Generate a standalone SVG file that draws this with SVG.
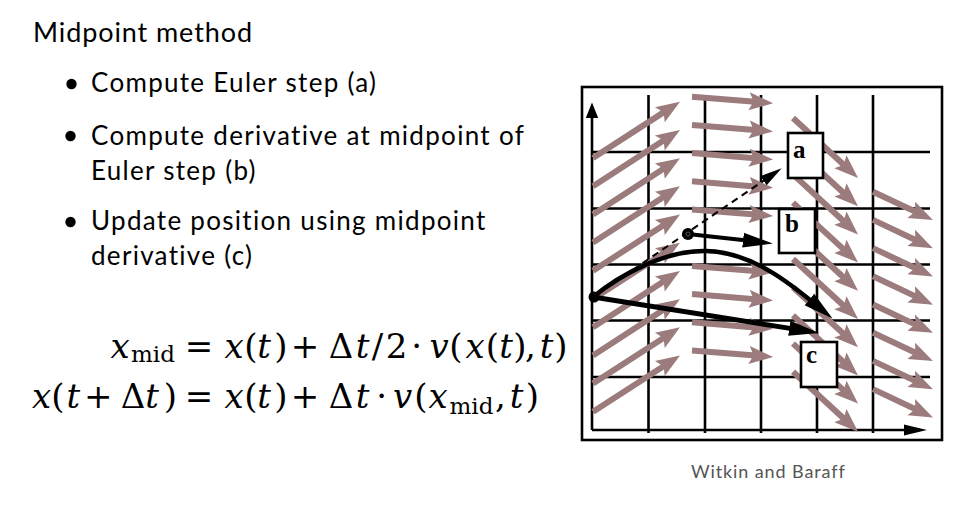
<svg xmlns="http://www.w3.org/2000/svg" width="975" height="508" viewBox="0 0 975 508">
<style>
.t{font-family:Lato,"Open Sans",sans-serif;font-size:26px;letter-spacing:1.3px;fill:#000}
.cr{font-family:Lato,"Open Sans",sans-serif;font-size:18px;letter-spacing:0.9px;fill:#555}
.eq{font-family:"DejaVu Serif",serif;font-size:34px;fill:#000;text-anchor:middle}
.it{font-style:italic}
.sub{font-size:23px;font-style:normal}
.grid{stroke:#000;stroke-width:2.6;fill:none}
.vec{fill:#9b7b7b}
.lbl{font-family:"Liberation Serif","DejaVu Serif",serif;font-weight:bold;font-size:25px;fill:#000}
.box{fill:#fff;stroke:#000;stroke-width:2.6}
.blk{stroke:#000;fill:none}
</style>
<defs>
<path id="v1" class="vec" d="M0,-3 H82.6 L79.6,-9 L103.6,0 L79.6,9 L82.6,3 H0 Z" transform="rotate(-32.9)"/>
<path id="v2" class="vec" d="M0,-3 H60.3 L57.3,-9 L81.3,0 L57.3,9 L60.3,3 H0 Z" transform="rotate(4.6)"/>
<path id="v3" class="vec" d="M0,-3 H67.5 L64.5,-9 L88.5,0 L64.5,9 L67.5,3 H0 Z" transform="rotate(42.7)"/>
<path id="v4" class="vec" d="M0,-3 H45.3 L42.3,-9 L66.3,0 L42.3,9 L45.3,3 H0 Z" transform="rotate(25.3)"/>
<marker id="hb" markerUnits="userSpaceOnUse" viewBox="0 -10 40 20" markerWidth="40" markerHeight="20" refX="4" refY="0" orient="auto"><path d="M0,-7.5 L30,0 L0,7.5 Z" fill="#000"/></marker>
<marker id="hs" markerUnits="userSpaceOnUse" viewBox="0 -8 30 16" markerWidth="30" markerHeight="16" refX="3" refY="0" orient="auto"><path d="M0,-5.5 L22,0 L0,5.5 Z" fill="#000"/></marker>
</defs>
<rect width="975" height="508" fill="#fff"/>

<g id="text">
<text class="t" x="33" y="42" style="font-size:27px;letter-spacing:0.9px">Midpoint method</text>
<circle cx="71.5" cy="84" r="5.2"/>
<text class="t" x="91" y="92">Compute Euler step (a)</text>
<circle cx="70.5" cy="136" r="5.2"/>
<text class="t" x="91" y="145">Compute derivative at midpoint of</text>
<text class="t" x="91" y="180">Euler step (b)</text>
<circle cx="70.5" cy="222" r="5.2"/>
<text class="t" x="91" y="230">Update position using midpoint</text>
<text class="t" x="91" y="265">derivative (c)</text>
<text class="cr" x="691" y="478">Witkin and Baraff</text>
</g>

<g id="equations">
<text class="eq" y="358"><tspan x="120" class="it">x</tspan><tspan x="153" y="362" class="sub">mid</tspan><tspan x="199" y="358">=</tspan><tspan x="234" class="it">x</tspan><tspan x="251">(</tspan><tspan x="264" class="it">t</tspan><tspan x="281">)</tspan><tspan x="305">+</tspan><tspan x="341">Δ</tspan><tspan x="362.5" class="it">t</tspan><tspan x="377.5">/</tspan><tspan x="396.5">2</tspan><tspan x="416.7">·</tspan><tspan x="439" class="it">v</tspan><tspan x="456">(</tspan><tspan x="475" class="it">x</tspan><tspan x="492.5">(</tspan><tspan x="506" class="it">t</tspan><tspan x="520">)</tspan><tspan x="530.5">,</tspan><tspan x="546.5" class="it">t</tspan><tspan x="561">)</tspan></text>
<text class="eq" y="408"><tspan x="41.7" class="it">x</tspan><tspan x="58">(</tspan><tspan x="73.3" class="it">t</tspan><tspan x="98.3">+</tspan><tspan x="133">Δ</tspan><tspan x="152" class="it">t</tspan><tspan x="170.5">)</tspan><tspan x="199">=</tspan><tspan x="234" class="it">x</tspan><tspan x="251">(</tspan><tspan x="264" class="it">t</tspan><tspan x="281">)</tspan><tspan x="305">+</tspan><tspan x="341">Δ</tspan><tspan x="362.5" class="it">t</tspan><tspan x="381.7">·</tspan><tspan x="402.5" class="it">v</tspan><tspan x="421">(</tspan><tspan x="438" class="it">x</tspan><tspan x="471.5" y="413.5" class="sub">mid</tspan><tspan x="500.5" y="408">,</tspan><tspan x="516.5" class="it">t</tspan><tspan x="532.5">)</tspan></text>
</g>

<g id="plot-frame">
<rect x="582" y="87" width="360" height="353" fill="none" stroke="#000" stroke-width="2.6"/>
<path class="grid" d="M648.5,95V433 M705,95V433 M761,95V433 M817,95V433 M873,95V433 M592,152H930 M592,208.5H930 M592,264.5H930 M592,320.5H930 M592,377H930"/>
<path class="grid" d="M592,430V117 M592,430H905"/>
<path d="M585.8,118 L592,102.5 L598.2,118 Z M904,424.5 L927,430 L904,435.5 Z" fill="#000"/>
</g>

<g id="vector-field">
<use href="#v1" x="593" y="158"/><use href="#v1" x="593" y="186.2"/><use href="#v1" x="593" y="214.4"/><use href="#v1" x="593" y="242.6"/><use href="#v1" x="593" y="270.8"/><use href="#v1" x="593" y="299"/><use href="#v1" x="593" y="327.2"/><use href="#v1" x="593" y="355.4"/><use href="#v1" x="593" y="383.6"/><use href="#v1" x="593" y="411.8"/>
<use href="#v2" x="692" y="96.7"/><use href="#v2" x="692" y="124.9"/><use href="#v2" x="692" y="153.1"/><use href="#v2" x="692" y="181.3"/><use href="#v2" x="692" y="209.5"/><use href="#v2" x="692" y="265.9"/><use href="#v2" x="692" y="294.1"/><use href="#v2" x="692" y="322.3"/><use href="#v2" x="692" y="350.5"/>
<use href="#v3" x="793" y="118"/><use href="#v3" x="793" y="146.2"/><use href="#v3" x="793" y="174.4"/><use href="#v3" x="793" y="202.6"/><use href="#v3" x="793" y="230.8"/><use href="#v3" x="793" y="259"/><use href="#v3" x="793" y="287.2"/><use href="#v3" x="793" y="315.4"/><use href="#v3" x="793" y="343.6"/><use href="#v3" x="793" y="371.8"/>
<use href="#v4" x="873" y="191.7"/><use href="#v4" x="873" y="219.9"/><use href="#v4" x="873" y="248.1"/><use href="#v4" x="873" y="276.3"/><use href="#v4" x="873" y="304.5"/><use href="#v4" x="873" y="332.7"/><use href="#v4" x="873" y="360.9"/><use href="#v4" x="873" y="389.1"/>
</g>

<g id="node-a"><rect class="box" x="788" y="133" width="35" height="45"/><text class="lbl" x="793" y="158">a</text></g>
<g id="node-b"><rect class="box" x="779" y="209" width="36" height="44"/><text class="lbl" x="785" y="232">b</text></g>
<g id="node-c"><rect class="box" x="801" y="342" width="36" height="45"/><text class="lbl" x="806" y="363">c</text></g>

<g id="connectors">
<path class="blk" d="M593,297 L766,179" stroke-width="2" stroke-dasharray="7 5" marker-end="url(#hs)"/>
<path class="blk" d="M593,297 C620,275 665,250 706,251 C747,252 781,276 812.5,302" stroke-width="4.5" marker-end="url(#hb)"/>
<path class="blk" d="M593,297 L793.3,328.9" stroke-width="5" marker-end="url(#hb)"/>
<path class="blk" d="M688,234 L747,240.6" stroke-width="4" marker-end="url(#hb)"/>
<circle id="start-point" cx="594" cy="297" r="5.5" fill="#000"/>
<g id="mid-point"><circle cx="688" cy="234" r="6" fill="#000"/><circle cx="688" cy="234" r="2" fill="none" stroke="#666" stroke-width="0.8"/></g>
</g>
</svg>
